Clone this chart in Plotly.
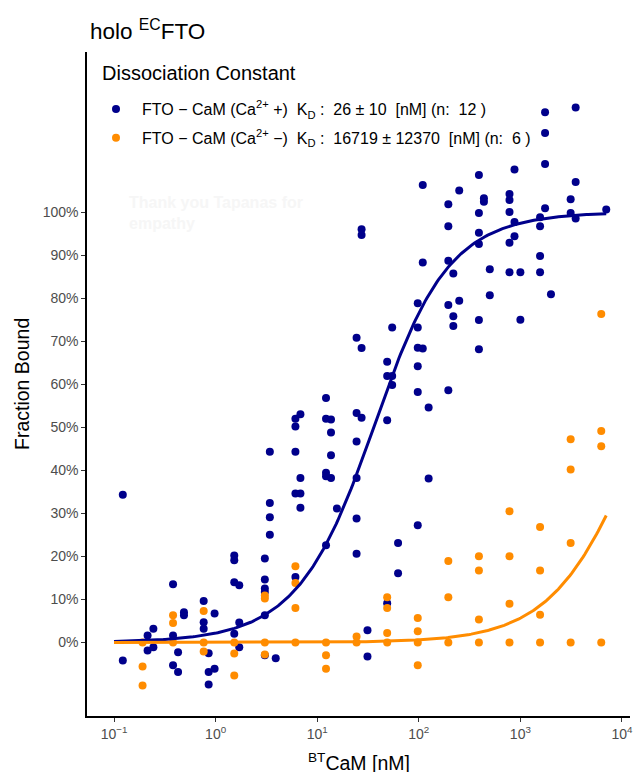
import numpy as np
import plotly.graph_objects as go

# ---------------- data ----------------
blue_conc = [0.122, 0.122, 0.214, 0.214, 0.244, 0.244,
             0.381, 0.381, 0.381, 0.427, 0.427, 0.488, 0.488,
             0.763, 0.763, 0.763, 0.854, 0.854, 0.854, 0.977, 0.977,
             1.526, 1.526, 1.526, 1.526, 1.709, 1.709, 1.709,
             3.052, 3.052, 3.052, 3.052, 3.052, 3.052,
             3.418, 3.418, 3.418, 3.418, 3.906,
             6.104, 6.104, 6.104, 6.104, 6.104,
             6.836, 6.836, 6.836, 6.836,
             12.21, 12.21, 12.21, 12.21, 12.21,
             13.67, 13.67, 13.67, 13.67, 15.63,
             24.41, 24.41, 24.41, 24.41, 24.41, 24.41,
             27.34, 27.34, 27.34, 27.34, 31.25, 31.25,
             48.83, 48.83, 48.83, 48.83, 54.69, 54.69, 54.69, 62.5, 62.5,
             97.66, 97.66, 97.66, 97.66, 97.66, 97.66,
             109.4, 109.4, 109.4, 125, 125,
             195.3, 195.3, 195.3, 195.3, 195.3,
             218.75, 218.75, 218.75, 250, 250,
             390.6, 390.6, 390.6, 390.6, 390.6, 390.6,
             437.5, 437.5, 500, 500,
             781.25, 781.25, 781.25, 781.25, 781.25,
             875, 875, 875, 1000, 1000,
             1562.5, 1562.5, 1562.5, 1562.5,
             1750, 1750, 1750, 1750, 2000,
             3125, 3125, 3500, 3500, 3500, 7000]
blue_fb = [34.3, -4.2, 1.6, -1.9, 3.2, -1.1,
           13.5, 1.6, -5.3, -2.3, -6.9, 7.0, 6.3,
           9.6, 4.7, 3.2, -2.5, -6.9, -9.8, 6.7, -6.1,
           20.2, 19.1, 14.0, 2.0, 13.3, 4.6, -1.1,
           19.5, 14.6, 12.5, 11.7, 6.3, -3.0,
           44.3, 32.4, 29.1, 25.0, -3.7,
           52.0, 50.2, 44.3, 34.6, 15.2,
           53.0, 38.2, 34.6, 31.3,
           56.8, 52.0, 39.4, 38.6, 22.6,
           51.8, 48.8, 43.5, 38.2, 31.1,
           70.8, 53.3, 46.7, 38.2, 28.8, 20.6,
           96.0, 94.7, 68.4, 52.2, 2.8, -3.3,
           65.2, 61.9, 51.6, 9.1, 73.2, 61.9, 59.8, 23.1, 16.1,
           78.8, 73.2, 68.5, 64.2, 58.2, 27.2,
           106.3, 88.3, 68.3, 54.6, 38.1,
           101.8, 96.7, 88.7, 78.4, 58.6,
           85.7, 75.8, 73.5, 105.0, 79.4,
           108.6, 99.8, 95.2, 92.6, 74.9, 68.1,
           103.2, 102.4, 86.7, 80.7,
           104.2, 102.8, 100.0, 92.9, 86.0,
           109.9, 97.7, 94.4, 86.0, 75.0,
           98.8, 96.7, 89.8, 86.0,
           123.2, 118.4, 111.2, 100.9, 80.9,
           103.0, 99.8, 124.3, 107.0, 98.5, 100.6]

orange_conc = [0.191, 0.191, 0.191, 0.381, 0.381, 0.381,
               0.763, 0.763, 0.763, 1.526, 1.526, 1.526,
               3.052, 3.052, 3.052, 3.052, 6.104, 6.104, 6.104, 6.104,
               12.21, 12.21, 12.21, 24.41, 24.41,
               48.83, 48.83, 48.83, 48.83, 97.66, 97.66, 97.66, 97.66,
               195.3, 195.3, 195.3, 390.6, 390.6, 390.6, 390.6,
               781.25, 781.25, 781.25, 781.25, 1562.5, 1562.5, 1562.5, 1562.5,
               3125, 3125, 3125, 3125, 6250, 6250, 6250, 6250]
orange_fb = [0.0, -5.6, -10.0, 6.3, 4.5, 0.0,
             7.3, 0.0, -2.1, 0.0, -2.6, -7.7,
             10.9, 10.2, 0.0, -2.8, 17.7, 13.8, 8.0, 0.0,
             0.0, -3.0, -6.1, 1.4, 0.0,
             10.5, 8.0, 2.2, 0.0, 5.7, 2.6, 0.0, -5.3,
             18.9, 10.5, 0.0, 20.0, 16.7, 5.3, 0.0,
             30.5, 20.0, 9.0, 0.0, 26.8, 16.7, 6.4, 0.0,
             47.2, 40.2, 23.1, 0.0, 76.3, 49.1, 45.6, 0.0]

kd_blue = 26.0       # nM (legend)
kd_orange = 16719.0  # nM (legend)
fto_conc = 20.0      # nM, fixed partner concentration in the binding model
fit_min, fit_max = 0.1, 7000.0

y_ticks = [0, 10, 20, 30, 40, 50, 60, 70, 80, 90, 100]
y_tick_text = ["0%", "10%", "20%", "30%", "40%", "50%", "60%", "70%", "80%", "90%", "100%"]
x_ticks = [0.1, 1, 10, 100, 1000, 10000]
x_tick_text = ["10<sup>\u22121</sup>", "10<sup>0</sup>", "10<sup>1</sup>",
               "10<sup>2</sup>", "10<sup>3</sup>", "10<sup>4</sup>"]

name_blue = ("FTO \u2212 CaM (Ca<sup>2+</sup> +)\u00a0\u00a0K<sub>D</sub> :\u00a0\u00a026 \u00b1 10"
             "\u00a0\u00a0[nM] (n:\u00a0\u00a012 )")
name_orange = ("FTO \u2212 CaM (Ca<sup>2+</sup> \u2212)\u00a0\u00a0K<sub>D</sub> :\u00a0\u00a016719 \u00b1 12370"
               "\u00a0\u00a0[nM] (n:\u00a0\u00a06 )")

BLUE = "#00008B"
ORANGE = "#FF8C00"


def quad_binding(L, kd, p):
    s = p + L + kd
    return 100.0 * (s - np.sqrt(s * s - 4.0 * p * L)) / (2.0 * p)


xfit = np.logspace(np.log10(fit_min), np.log10(fit_max), 300)

fig = go.Figure()
fig.add_trace(go.Scatter(x=blue_conc, y=blue_fb, mode="markers", name=name_blue,
                         legendgroup="a",
                         marker=dict(color=BLUE, size=8, line=dict(width=0))))
fig.add_trace(go.Scatter(x=orange_conc, y=orange_fb, mode="markers", name=name_orange,
                         legendgroup="b",
                         marker=dict(color=ORANGE, size=8, line=dict(width=0))))
fig.add_trace(go.Scatter(x=xfit, y=quad_binding(xfit, kd_blue, fto_conc), mode="lines",
                         line=dict(color=BLUE, width=3), showlegend=False))
fig.add_trace(go.Scatter(x=xfit, y=quad_binding(xfit, kd_orange, fto_conc), mode="lines",
                         line=dict(color=ORANGE, width=3), showlegend=False))

# page has an 8px body margin: figure is placed at (8, 8)
OFF = 8
W, H = 644 - OFF, 772 - OFF
L, R, T, B = 79, 14, 44, 56
pw, ph = W - L - R, H - T - B


def px_x(page_x):
    return (page_x - OFF - L) / pw


def px_y(page_y):
    return (H - B - (page_y - OFF)) / ph


fig.update_layout(
    width=W, height=H,
    margin=dict(l=L, r=R, t=T, b=B, pad=0),
    paper_bgcolor="white", plot_bgcolor="white",
    font=dict(family="Liberation Sans, Arial, sans-serif", color="black"),
    showlegend=True,
    legend=dict(
        x=px_x(90), y=px_y(92), xanchor="left", yanchor="top",
        bgcolor="white", borderwidth=0,
        font=dict(size=16, color="black"),
        itemwidth=42,
        tracegroupgap=5,
    ),
    xaxis=dict(
        type="log", range=[-1.266, 4.079],
        tickvals=x_ticks, ticktext=x_tick_text,
        showline=True, linecolor="black", linewidth=1.5,
        ticks="outside", ticklen=4, tickwidth=1.2, tickcolor="#333333",
        tickfont=dict(size=14, color="#4D4D4D"),
        showgrid=False, zeroline=False,
    ),
    yaxis=dict(
        range=[-17.1, 137.2],
        tickvals=y_ticks, ticktext=y_tick_text,
        showline=True, linecolor="black", linewidth=1.5,
        ticks="outside", ticklen=4, tickwidth=1.2, tickcolor="#333333",
        tickfont=dict(size=14, color="#4D4D4D"),
        showgrid=False, zeroline=False,
    ),
)

fig.add_annotation(text="holo <sup>EC</sup>FTO", xref="paper", yref="paper",
                   x=px_x(88), y=px_y(30), xanchor="left", yanchor="middle",
                   showarrow=False, font=dict(size=22.5, color="black"))
fig.add_annotation(text="Dissociation Constant", xref="paper", yref="paper",
                   x=px_x(100), y=px_y(73), xanchor="left", yanchor="middle",
                   showarrow=False, font=dict(size=20, color="black"))
fig.add_annotation(text="<sup>BT</sup>CaM [nM]", xref="paper", yref="paper",
                   x=0.5, y=px_y(762), xanchor="center", yanchor="middle",
                   showarrow=False, font=dict(size=19.5, color="black"))
fig.add_annotation(text="Fraction Bound", xref="paper", yref="paper",
                   x=px_x(22), y=px_y(384), xanchor="center", yanchor="middle",
                   textangle=-90, showarrow=False, font=dict(size=19.5, color="black"))
fig.add_annotation(text="<b>Thank you Tapanas for<br>empathy</b>", xref="paper", yref="paper",
                   x=px_x(127), y=px_y(213), xanchor="left", yanchor="middle", align="left",
                   showarrow=False, font=dict(size=16, color="#f6f6f6"))

fig.write_html("out.html")
